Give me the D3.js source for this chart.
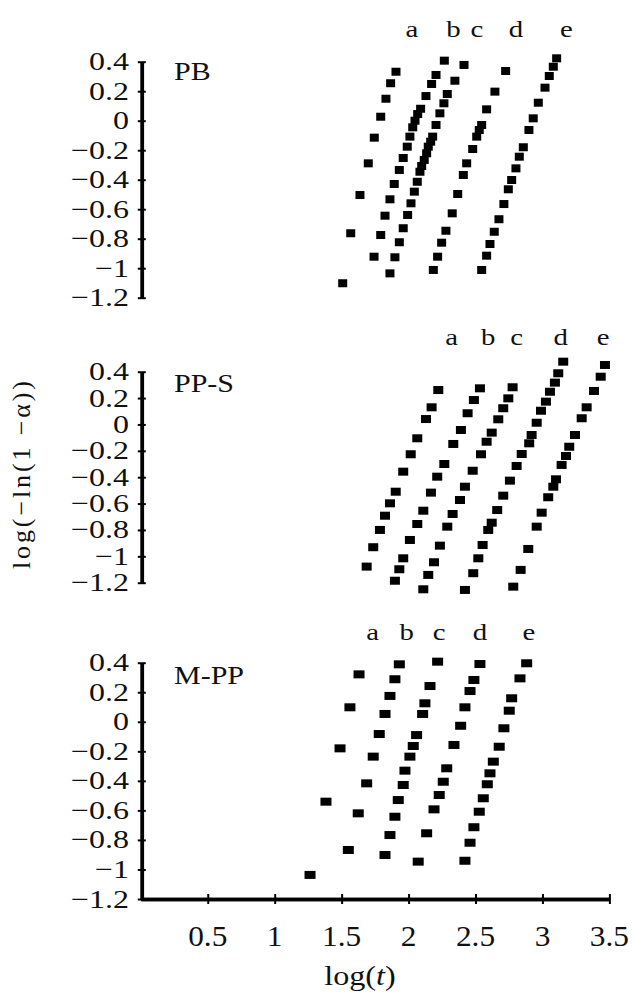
<!DOCTYPE html>
<html><head><meta charset="utf-8">
<script src="https://cdn.jsdelivr.net/npm/d3@7"></script>
<style>html,body{margin:0;padding:0;background:#fff;}svg{display:block;}</style>
</head><body><div id="chart"></div>
<script>
// ---------- data (x = log(t), y = log(-ln(1-α))) ----------
const seriesNames = ["a", "b", "c", "d", "e"];
const panelNames = ["PB", "PP-S", "M-PP"];

const pb_a = [[1.508,-1.102],[1.568,-0.763],[1.637,-0.504],[1.699,-0.289],[1.744,-0.115],[1.792,0.027],[1.831,0.149],[1.866,0.254],[1.906,0.332]];
const pb_b = [[1.742,-0.922],[1.792,-0.775],[1.824,-0.644],[1.861,-0.533],[1.893,-0.429],[1.931,-0.334],[1.960,-0.253],[1.990,-0.176],[2.010,-0.108],[2.031,-0.045],[2.048,0.000],[2.068,0.045],[2.090,0.081],[2.130,0.167],[2.172,0.249],[2.205,0.310],[2.267,0.407]];
const pb_c = [[1.861,-1.035],[1.898,-0.926],[1.931,-0.824],[1.960,-0.729],[1.993,-0.639],[2.018,-0.560],[2.043,-0.481],[2.065,-0.414],[2.085,-0.346],[2.098,-0.307],[2.117,-0.266],[2.135,-0.221],[2.147,-0.176],[2.165,-0.142],[2.180,-0.108],[2.205,-0.029],[2.234,0.050],[2.264,0.118],[2.289,0.181],[2.346,0.271],[2.414,0.378]];
const pb_d = [[2.185,-1.012],[2.217,-0.922],[2.247,-0.827],[2.279,-0.746],[2.326,-0.628],[2.367,-0.497],[2.409,-0.368],[2.434,-0.289],[2.479,-0.192],[2.509,-0.108],[2.528,-0.063],[2.546,-0.029],[2.583,0.077],[2.645,0.197],[2.725,0.337]];
const pb_e = [[2.546,-1.012],[2.583,-0.915],[2.608,-0.836],[2.640,-0.753],[2.675,-0.668],[2.712,-0.565],[2.745,-0.465],[2.770,-0.402],[2.802,-0.323],[2.827,-0.244],[2.857,-0.180],[2.899,-0.063],[2.931,0.016],[2.969,0.122],[3.019,0.224],[3.051,0.303],[3.081,0.366],[3.106,0.423]];

const ps_a = [[1.687,-1.078],[1.736,-0.931],[1.786,-0.800],[1.824,-0.692],[1.861,-0.598],[1.904,-0.510],[1.960,-0.358],[2.016,-0.226],[2.065,-0.105],[2.130,0.041],[2.172,0.130],[2.222,0.261]];
const ps_b = [[1.898,-1.185],[1.931,-1.098],[1.960,-1.015],[2.010,-0.876],[2.065,-0.755],[2.110,-0.654],[2.167,-0.517],[2.214,-0.396],[2.267,-0.300],[2.334,-0.148],[2.391,-0.042],[2.441,0.085],[2.488,0.185],[2.533,0.274]];
const ps_c = [[2.110,-1.250],[2.147,-1.141],[2.190,-1.045],[2.234,-0.919],[2.289,-0.775],[2.329,-0.679],[2.384,-0.573],[2.421,-0.472],[2.479,-0.351],[2.541,-0.226],[2.583,-0.131],[2.621,-0.062],[2.670,0.039],[2.707,0.123],[2.745,0.198],[2.777,0.282]];
const ps_d = [[2.421,-1.255],[2.483,-1.128],[2.521,-1.015],[2.553,-0.914],[2.595,-0.800],[2.621,-0.745],[2.662,-0.649],[2.707,-0.540],[2.757,-0.426],[2.807,-0.315],[2.845,-0.224],[2.901,-0.143],[2.919,-0.080],[2.957,0.013],[2.989,0.104],[3.026,0.173],[3.056,0.248],[3.093,0.317],[3.118,0.388],[3.155,0.476]];
const ps_e = [[2.782,-1.230],[2.837,-1.103],[2.894,-0.944],[2.957,-0.775],[2.994,-0.669],[3.043,-0.552],[3.081,-0.472],[3.101,-0.416],[3.143,-0.307],[3.176,-0.239],[3.200,-0.169],[3.243,-0.080],[3.293,0.047],[3.330,0.130],[3.385,0.254],[3.435,0.362],[3.467,0.451]];

const mp_a = [[1.264,-1.037],[1.383,-0.541],[1.488,-0.180],[1.562,0.098],[1.630,0.321]];
const mp_b = [[1.550,-0.868],[1.624,-0.620],[1.687,-0.417],[1.736,-0.236],[1.781,-0.083],[1.824,0.053],[1.861,0.175],[1.898,0.288],[1.931,0.389]];
const mp_c = [[1.824,-0.902],[1.861,-0.767],[1.898,-0.643],[1.923,-0.530],[1.960,-0.428],[1.973,-0.331],[2.010,-0.236],[2.035,-0.164],[2.060,-0.090],[2.105,0.053],[2.122,0.125],[2.160,0.242],[2.217,0.407]];
const mp_d = [[2.072,-0.947],[2.135,-0.755],[2.190,-0.593],[2.229,-0.496],[2.259,-0.406],[2.285,-0.315],[2.339,-0.157],[2.389,-0.027],[2.421,0.098],[2.459,0.208],[2.488,0.283],[2.533,0.391]];
const mp_e = [[2.421,-0.941],[2.459,-0.819],[2.488,-0.714],[2.528,-0.609],[2.558,-0.518],[2.588,-0.423],[2.608,-0.349],[2.633,-0.270],[2.677,-0.169],[2.712,-0.044],[2.752,0.075],[2.770,0.159],[2.832,0.294],[2.882,0.396]];

// letter label x positions (log t) per panel
const pbLetterX = [2.025, 2.336, 2.511, 2.802, 3.179];
const psLetterX = [2.322, 2.595, 2.807, 3.136, 3.454];
const mpLetterX = [1.732, 1.986, 2.229, 2.533, 2.899];

const yTicks = [0.4, 0.2, 0, -0.2, -0.4, -0.6, -0.8, -1, -1.2];
const yTickLabels = ["0.4", "0.2", "0", "\u22120.2", "\u22120.4", "\u22120.6", "\u22120.8", "\u22121", "\u22121.2"];
const xTicks = [0.5, 1, 1.5, 2, 2.5, 3, 3.5];
const xTickLabels = ["0.5", "1", "1.5", "2", "2.5", "3", "3.5"];
const yLabel = "log(\u2212ln(1 \u2212\u03b1))";

// ---------- layout ----------
const W = 632, H = 998;
const FONT = "'Liberation Serif','Times New Roman',serif";
const svg = d3.select("#chart").append("svg").attr("width", W).attr("height", H)
  .style("background", "#fff");

const x = d3.scaleLinear().domain([0, 3.5]).range([140.8, 609.4]);

const panels = [
  { name: panelNames[0], series: [pb_a, pb_b, pb_c, pb_d, pb_e], letters: pbLetterX, yr: [297.7, 61.7], mk: [9, 8], letterOff: 24.7, nameOff: 18.5 },
  { name: panelNames[1], series: [ps_a, ps_b, ps_c, ps_d, ps_e], letters: psLetterX, yr: [582.7, 371.7], mk: [10, 8], letterOff: 26.7, nameOff: 20.3 },
  { name: panelNames[2], series: [mp_a, mp_b, mp_c, mp_d, mp_e], letters: mpLetterX, yr: [899.0, 662.7], mk: [11, 8], letterOff: 22.7, nameOff: 21.3, xaxis: true }
];

function stext(g, px, py, str, fs, sx, anchor) {
  return g.append("text")
    .attr("transform", `translate(${px},${py}) scale(${sx},1)`)
    .attr("text-anchor", anchor || "start")
    .attr("font-family", FONT)
    .attr("font-size", fs)
    .attr("fill", "#111")
    .text(str);
}

panels.forEach(p => {
  const y = d3.scaleLinear().domain([-1.2, 0.4]).range(p.yr);
  const g = svg.append("g");
  const ax = x(0) + 1;

  // y axis (ticks on both sides)
  const left = d3.axisLeft(y).tickValues(yTicks).tickSize(4).tickSizeOuter(0).tickFormat("");
  const right = d3.axisRight(y).tickValues(yTicks).tickSize(4).tickSizeOuter(0).tickFormat("");
  [left, right].forEach(a => {
    const ga = g.append("g").attr("transform", `translate(${ax},0)`).call(a);
    ga.select(".domain").attr("stroke", "#000").attr("stroke-width", 3.5);
    ga.selectAll(".tick line").attr("stroke", "#000").attr("stroke-width", 2);
  });
  yTicks.forEach((v, i) => stext(g, 129, y(v) + 8.5, yTickLabels[i], 26, 1.23, "end"));

  // x axis (bottom panel only)
  if (p.xaxis) {
    const yb = y(-1.2);
    const bot = d3.axisBottom(x).tickValues(xTicks).tickSize(5).tickSizeOuter(0).tickFormat("");
    const top = d3.axisTop(x).tickValues(xTicks).tickSize(5).tickSizeOuter(0).tickFormat("");
    [bot, top].forEach(a => {
      const ga = g.append("g").attr("transform", `translate(0,${yb})`).call(a);
      ga.select(".domain").attr("stroke", "#000").attr("stroke-width", 3.5);
      ga.selectAll(".tick line").attr("stroke", "#000").attr("stroke-width", 2);
    });
    xTicks.forEach((v, i) => stext(g, x(v), 946, xTickLabels[i], 29, 1.08, "middle"));
    const xl = g.append("text")
      .attr("transform", `translate(${x(1.637)},985) scale(1.15,1)`)
      .attr("text-anchor", "middle").attr("font-family", FONT).attr("font-size", 28).attr("fill", "#111");
    xl.append("tspan").text("log(");
    xl.append("tspan").attr("font-style", "italic").text("t");
    xl.append("tspan").text(")");
  }

  // panel name
  stext(g, 174, y(0.4) + p.nameOff, p.name, 25, 1.2, "start");

  // series letters
  p.letters.forEach((lx, i) => stext(g, x(lx), y(0.4) - p.letterOff, seriesNames[i], 24, 1.2, "middle"));

  // markers
  p.series.forEach(s => {
    g.append("g").selectAll("rect").data(s).join("rect")
      .attr("x", d => x(d[0]) - p.mk[0] / 2)
      .attr("y", d => y(d[1]) - p.mk[1] / 2)
      .attr("width", p.mk[0]).attr("height", p.mk[1])
      .attr("fill", "#000");
  });
});

// y label
svg.append("text")
  .attr("transform", "translate(30,475) rotate(-90)")
  .attr("text-anchor", "middle")
  .attr("font-family", FONT).attr("font-size", 26).attr("fill", "#111")
  .attr("textLength", 188).attr("lengthAdjust", "spacing")
  .text(yLabel);
</script>
</body></html>
